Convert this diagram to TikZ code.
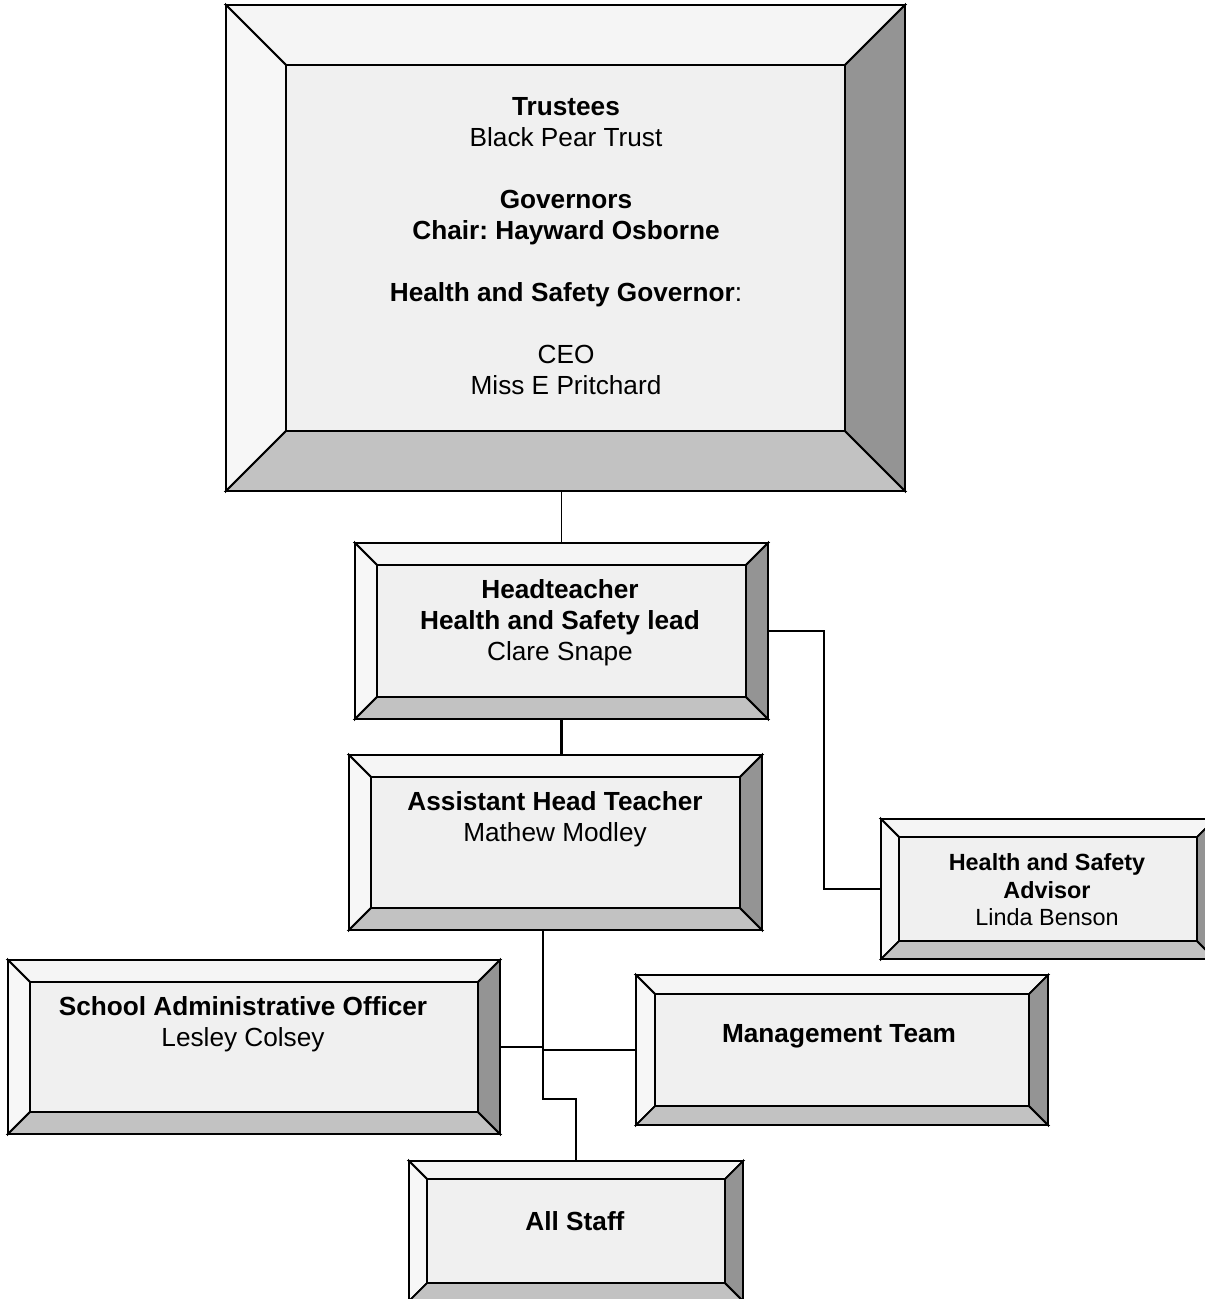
\documentclass[tikz,border=0pt]{standalone}
\usepackage{fontspec}
\setmainfont{Liberation Sans}
\usepackage{tikz}
\usetikzlibrary{fit}
\frenchspacing

\definecolor{bevtop}{gray}{0.96}
\definecolor{bevleft}{gray}{0.97}
\definecolor{bevface}{gray}{0.94}
\definecolor{bevbot}{gray}{0.76}
\definecolor{bevright}{gray}{0.58}

\tikzset{
  bevel/.style={draw=black,line width=0.9pt,line join=miter},
  link/.style={draw=black,line width=0.75pt},
  boldlink/.style={draw=black,line width=1.5pt},
  txt/.style={align=center,inner sep=0pt,font=\fontsize{13.1}{15.5}\selectfont},
  smalltxt/.style={align=center,inner sep=0pt,font=\fontsize{11.7}{13.75}\selectfont}
}

% name, left, top, right, bottom, bevel
\newcommand{\bevbox}[6]{%
  \filldraw[bevel,fill=bevtop] (#2,#3) -- (#4,#3) -- ({#4-#6},{#3+#6}) -- ({#2+#6},{#3+#6}) -- cycle;
  \filldraw[bevel,fill=bevleft] (#2,#3) -- ({#2+#6},{#3+#6}) -- ({#2+#6},{#5-#6}) -- (#2,#5) -- cycle;
  \filldraw[bevel,fill=bevbot] (#2,#5) -- ({#2+#6},{#5-#6}) -- ({#4-#6},{#5-#6}) -- (#4,#5) -- cycle;
  \filldraw[bevel,fill=bevright] (#4,#3) -- (#4,#5) -- ({#4-#6},{#5-#6}) -- ({#4-#6},{#3+#6}) -- cycle;
  \filldraw[bevel,fill=bevface] ({#2+#6},{#3+#6}) rectangle ({#4-#6},{#5-#6});
  \node[fit={(#2,#3) (#4,#5)},inner sep=0pt,outer sep=0pt,draw,line width=1pt] (#1) {};
}

\begin{document}
\begin{tikzpicture}[x=0.5pt,y=-0.5pt]
            \useasboundingbox (0,0) rectangle (1204,1299);
            \bevbox{top}{226}{5}{905}{491}{60}
            \bevbox{ht}{355}{543}{768}{719}{22}
            \bevbox{aht}{349}{755}{762}{930}{22}
            \bevbox{hsa}{881}{819}{1215}{959}{18}
            \bevbox{sao}{8}{960}{500}{1134}{22}
            \bevbox{mt}{636}{975}{1048}{1125}{19}
            \bevbox{all}{409}{1161}{743}{1301}{18}
            \node[txt] (toptxt) at (566,246) {\textbf{Trustees}\\Black Pear Trust\\[15.5pt]
                \textbf{Governors}\\\textbf{Chair: Hayward Osborne}\\[15.5pt]
                \textbf{Health and Safety Governor}:\\[15.5pt]
                CEO\\Miss E Pritchard};
            \node[txt] (httxt) at (560,623) {\textbf{Headteacher}\\\textbf{Health and Safety lead}\\Clare Snape};
            \node[txt] (ahttxt) at (555,819) {\textbf{Assistant Head Teacher}\\Mathew Modley};
            \node[smalltxt] (hsatxt) at (1047,890) {\textbf{Health and Safety}\\\textbf{Advisor}\\Linda Benson};
            \node[txt] (saotxt) at (243,1024) {\textbf{School Administrative Officer}\\Lesley Colsey};
            \node[txt] (mttxt) at (839,1036) {\textbf{Management Team}};
            \node[txt] (alltxt) at (575,1221) {\textbf{All Staff}};
            \coordinate (trunk) at (543,1047);
            \draw[link] (top.south -| ht.north) -- (ht.north);
            \draw[boldlink] (ht.south) -- (ht.south |- aht.north);
            \draw[link] (ht.east) -- ++(56,0) |- (hsa.west);
            \draw[link] (trunk |- aht.south) -- (trunk |- 0,1099) -| (all.north);
            \draw[link] (trunk) -- (sao.east);
            \draw[link] (trunk |- mt.west) -- (mt.west);
        \end{tikzpicture}
\end{document}
